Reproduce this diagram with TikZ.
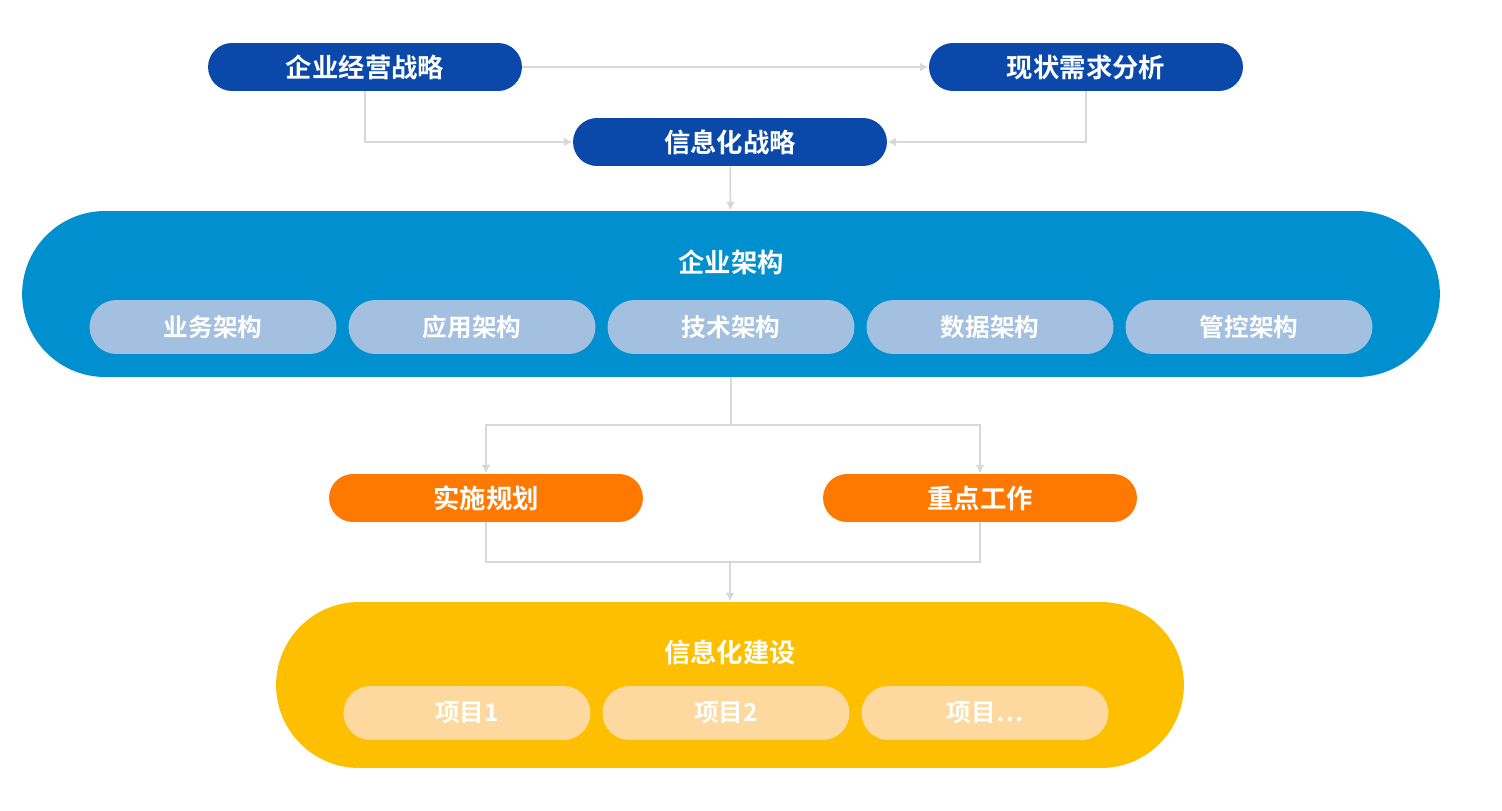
\documentclass[tikz,border=0pt]{standalone}
\usepackage{fontspec}
\setmainfont{Noto Sans CJK SC}[BoldFont={Noto Sans CJK SC Bold}]
\usetikzlibrary{arrows.meta}
\definecolor{dbc}{HTML}{0A49A9}
\definecolor{eac}{HTML}{0090CF}
\definecolor{subc}{HTML}{A3C0E0}
\definecolor{orc}{HTML}{FF7800}
\definecolor{jsc}{HTML}{FDBF00}
\definecolor{itc}{HTML}{FDD9A0}
\definecolor{lnc}{HTML}{D8D8D8}
\begin{document}
\begin{tikzpicture}[x=0.02cm, y=-0.02cm,
  pill/.style={rectangle, rounded corners=0.48cm, minimum width=6.28cm, minimum height=0.96cm, text=white, font=\bfseries\fontsize{15}{15}\selectfont},
  big/.style={rectangle, rounded corners=1.66cm, minimum height=3.32cm},
  sub/.style={rectangle, rounded corners=0.54cm, minimum width=4.94cm, minimum height=1.08cm, text=white, font=\bfseries\fontsize{14}{14}\selectfont},
  ttl/.style={text=white, font=\bfseries\fontsize{15}{15}\selectfont},
  conn/.style={draw=lnc, line width=1pt, -{Latex[length=5pt,width=5pt]}}]

    \useasboundingbox (0,0) rectangle (1502,811);

    \node[pill, fill=dbc] (jy) at (365,67) {企业经营战略};
    \node[pill, fill=dbc] (xz) at (1086,67) {现状需求分析};
    \node[pill, fill=dbc] (xxzl) at (730,142) {信息化战略};

    \node[big, fill=eac, minimum width=28.36cm] (qyjg) at (731,294) {};
    \node[ttl] (qyjgt) at (731,262) {企业架构};
    \foreach \x/\t [count=\i] in {213/业务架构, 472/应用架构, 731/技术架构, 990/数据架构, 1249/管控架构}
      \node[sub, fill=subc] (jg\i) at (\x,327) {\t};

    \node[pill, fill=orc] (ss) at (486,498) {实施规划};
    \node[pill, fill=orc] (zd) at (980,498) {重点工作};

    \node[big, fill=jsc, minimum width=18.16cm] (js) at (730,685) {};
    \node[ttl] (jst) at (730,652) {信息化建设};
    \foreach \x/\t [count=\i] in {467/项目1, 726/项目2, 985/项目…}
      \node[sub, fill=itc] (xm\i) at (\x,713) {\t};

    \coordinate (split) at (731,425);
    \coordinate (merge) at (730,562);

    \draw[conn] (jy) -- (xz);
    \draw[conn] (jy) |- (xxzl);
    \draw[conn] (xz) |- (xxzl);
    \draw[conn] (xxzl) -- (qyjg);
    \draw[draw=lnc, line width=1pt] (qyjg.south) -- (split);
    \draw[conn] (split) -| (ss);
    \draw[conn] (split) -| (zd);
    \draw[draw=lnc, line width=1pt] (ss) |- (merge) -| (zd);
    \draw[conn] (merge) -- (js);

  \end{tikzpicture}
\end{document}
